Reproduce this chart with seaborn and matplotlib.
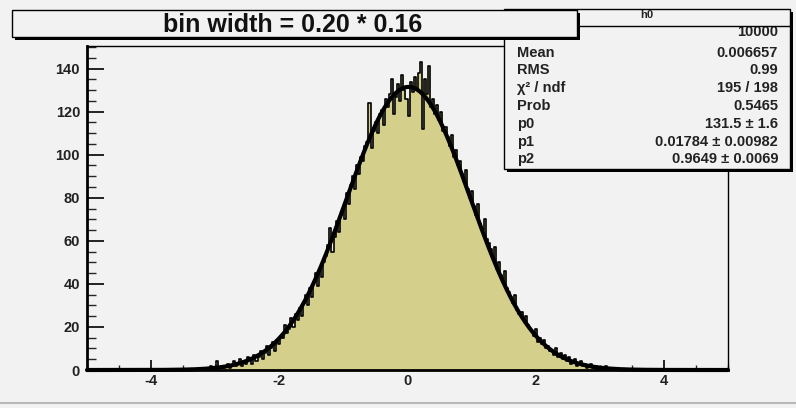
import numpy as np
import pandas as pd
import matplotlib
matplotlib.use("Agg")
import matplotlib.pyplot as plt
import seaborn as sns
from matplotlib.patches import Rectangle
from matplotlib.lines import Line2D
from matplotlib.ticker import MultipleLocator

# ---------------- data ----------------
x_min, x_max, n_bins = -5.0, 5.0, 312
first_bin = 56
counts = [
    1, 0, 1, 0, 2, 1, 0, 4, 1, 2,
    1, 2, 3, 1, 2, 4, 2, 3, 5, 2,
    4, 3, 6, 5, 3, 7, 4, 6, 9, 5,
    8, 11, 7, 10, 13, 9, 14, 12, 16, 15,
    21, 17, 19, 24, 20, 26, 23, 29, 25, 31,
    35, 30, 38, 34, 41, 45, 39, 47, 43, 50,
    53, 58, 66, 55, 62, 69, 64, 72, 75, 70,
    82, 77, 86, 90, 84, 95, 91, 99, 97, 104,
    106, 124, 103, 111, 115, 110, 119, 121, 114, 126,
    122, 128, 135, 119, 127, 133, 125, 137, 130, 126,
    118, 134, 129, 136, 130, 138, 143, 112, 135, 128,
    141, 122, 126, 119, 123, 116, 120, 111, 113, 108,
    104, 109, 99, 102, 95, 97, 91, 88, 93, 84,
    80, 83, 76, 72, 77, 68, 65, 70, 61, 59,
    56, 52, 57, 47, 50, 44, 41, 46, 38, 36,
    34, 31, 35, 28, 26, 27, 23, 25, 21, 19,
    18, 16, 19, 13, 15, 12, 14, 10, 11, 9,
    9, 7, 10, 6, 8, 5, 7, 4, 6, 3,
    4, 5, 2, 3, 4, 2, 3, 1, 2, 3,
    1, 2, 0, 1, 1, 0, 2, 0, 1, 0,
]
# fit parameters (gaus)
p0, p1, p2 = 131.5, 0.01784, 0.9649

title_text = "bin width = 0.20 * 0.16"
hist_name = "h0"
entries = "10000"
stat_labels = ["Mean", "RMS", "\u03c7\u00b2 / ndf", "Prob", "p0", "p1", "p2"]
stat_values = ["0.006657", "0.99", "195 / 198", "0.5465",
               "131.5 \u00b1 1.6", "0.01784 \u00b1 0.00982", "0.9649 \u00b1 0.0069"]

# ---------------- style ----------------
W, H = 796, 408
BG = "#f2f2f2"
FILL = "#d4cf8a"

sns.set_theme(style="white")
plt.rcParams['font.family'] = ['Liberation Sans', 'DejaVu Sans']
plt.rcParams['axes.unicode_minus'] = False

fig = plt.figure(figsize=(W / 100, H / 100), dpi=100, facecolor=BG)


def fx(px):
    return px / W


def fy(py):
    return 1 - py / H


ax = fig.add_axes([fx(87), fy(370), (728 - 87) / W, (370 - 46) / H])
ax.set_facecolor(BG)

edges = np.linspace(x_min, x_max, n_bins + 1)
centers = (edges[:-1] + edges[1:]) / 2
counts_all = np.zeros(n_bins)
counts_all[first_bin:first_bin + len(counts)] = counts
df = pd.DataFrame({"x": centers, "n": counts_all})

sns.histplot(data=df, x="x", weights="n", bins=n_bins, binrange=(x_min, x_max),
             element="step", fill=True, color=FILL, alpha=1, linewidth=0, ax=ax)
sns.histplot(data=df, x="x", weights="n", bins=n_bins, binrange=(x_min, x_max),
             element="step", fill=False, color="black", linewidth=1.2, ax=ax)

xf = np.linspace(x_min, x_max, 1200)
yf = p0 * np.exp(-0.5 * ((xf - p1) / p2) ** 2)
sns.lineplot(x=xf, y=yf, color="black", linewidth=3.0, ax=ax, clip_on=False,
             estimator=None, sort=False)

ax.set_xlim(x_min, x_max)
ax.set_ylim(0, 150.5)
ax.set_xlabel("")
ax.set_ylabel("")
ax.xaxis.set_major_locator(MultipleLocator(2))
ax.xaxis.set_minor_locator(MultipleLocator(0.5))
ax.yaxis.set_major_locator(MultipleLocator(20))
ax.yaxis.set_minor_locator(MultipleLocator(5))
ax.tick_params(axis="x", which="major", direction="in", length=7.2, width=1.2,
               pad=3, labelsize=10.5, bottom=True, top=False, colors="black")
ax.tick_params(axis="x", which="minor", direction="in", length=3.6, width=1.0,
               bottom=True, top=False)
ax.tick_params(axis="y", which="major", direction="in", length=12.5, width=1.2,
               pad=5, labelsize=10.5, left=True, right=False, colors="black")
ax.tick_params(axis="y", which="minor", direction="in", length=6.5, width=1.0,
               left=True, right=False)
for lab in ax.get_xticklabels() + ax.get_yticklabels():
    lab.set_fontweight("bold")
    lab.set_color("#222222")
for side, sp in ax.spines.items():
    sp.set_color("black")
    sp.set_linewidth(1.0)
ax.spines["left"].set_linewidth(2.0)
ax.spines["bottom"].set_linewidth(2.0)


def box(x0, y0, x1, y1, shadow=3, z=10):
    fig.add_artist(Rectangle((fx(x0 + shadow), fy(y1 + shadow)), (x1 - x0) / W, (y1 - y0) / H,
                             transform=fig.transFigure, facecolor="black",
                             edgecolor="none", zorder=z))
    fig.add_artist(Rectangle((fx(x0), fy(y1)), (x1 - x0) / W, (y1 - y0) / H,
                             transform=fig.transFigure, facecolor=BG,
                             edgecolor="black", linewidth=1.0, zorder=z + 0.1))


# stats box
box(504, 9, 790, 169, shadow=3, z=10)
fig.add_artist(Line2D([fx(504), fx(790)], [fy(26), fy(26)], transform=fig.transFigure,
                      color="black", linewidth=1.0, zorder=10.2))
fig.text(fx(647), fy(15), hist_name, ha="center", va="center", fontsize=8,
         fontweight="bold", color="#222222", zorder=10.3)
fig.text(fx(778), fy(32), entries, ha="right", va="center", fontsize=10.5,
         fontweight="bold", color="#222222", zorder=10.15)
row_y = [53, 70.5, 88, 106, 124, 142, 159.5]
for lab, val, yy in zip(stat_labels, stat_values, row_y):
    fig.text(fx(517), fy(yy), lab, ha="left", va="center", fontsize=10.5,
             fontweight="bold", color="#222222", zorder=10.3)
    fig.text(fx(778), fy(yy), val, ha="right", va="center", fontsize=10.5,
             fontweight="bold", color="#222222", zorder=10.3)

# title box
box(12, 10, 577, 37, shadow=3, z=20)
fig.text(fx(293), fy(25), title_text, ha="center", va="center", fontsize=18,
         fontweight="bold", color="#111111", zorder=20.3)

# bottom frame line
fig.add_artist(Line2D([0, 1], [fy(403), fy(403)], transform=fig.transFigure,
                      color="#b8b8b8", linewidth=1.5, zorder=1))

fig.savefig("out.png", dpi=100, facecolor=BG)
